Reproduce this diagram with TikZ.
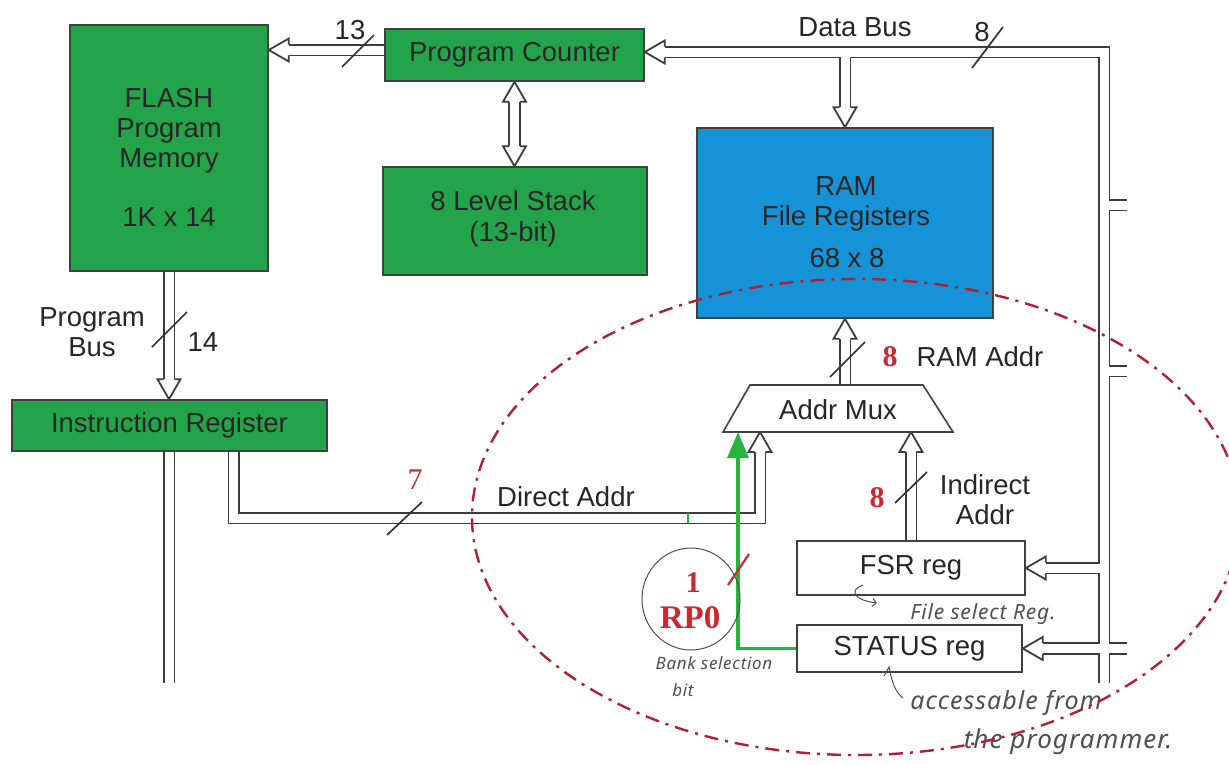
\documentclass[tikz,border=0pt]{standalone}
\usepackage{fontspec}
\setmainfont{Liberation Sans}
\newfontfamily\numfont{Liberation Serif}
\newfontfamily\handfont{Noto Sans}[LetterSpace=4]
\usetikzlibrary{calc,arrows.meta}
\pgfdeclarelayer{paper}
\pgfdeclarelayer{buslayer}
\pgfsetlayers{paper,buslayer,main}

\definecolor{boxgreen}{RGB}{36,164,74}
\definecolor{ramblue}{RGB}{22,146,214}
\definecolor{busgray}{RGB}{60,60,60}
\definecolor{markred}{RGB}{205,40,50}
\definecolor{ovalred}{RGB}{178,30,50}
\definecolor{wiregreen}{RGB}{40,180,60}
\definecolor{pencil}{RGB}{80,80,80}

\tikzset{
  lbl/.style={font=\fontsize{27.5}{30}\selectfont, text=black!85, inner sep=0pt},
  blk/.style={draw=black!75, line width=1.6pt, inner sep=0pt, lbl},
  gblk/.style={blk, fill=boxgreen},
  busout/.style={draw=busgray, line width=12.6pt, line join=miter},
  busin/.style={draw=white, line width=9pt, line join=miter},
  busedge/.style={draw=busgray, line width=1.8pt, line join=miter},
  headdown/.pic={\fill[white] (-11.5,-20) -- (0,0) -- (11.5,-20) -- cycle;
    \draw[busedge] (-5.4,-20) -- (-11.5,-20) -- (0,0) -- (11.5,-20) -- (5.4,-20);},
  headup/.pic={\fill[white] (-11.5,20) -- (0,0) -- (11.5,20) -- cycle;
    \draw[busedge] (-5.4,20) -- (-11.5,20) -- (0,0) -- (11.5,20) -- (5.4,20);},
  headleft/.pic={\fill[white] (20,-11.5) -- (0,0) -- (20,11.5) -- cycle;
    \draw[busedge] (20,-5.4) -- (20,-11.5) -- (0,0) -- (20,11.5) -- (20,5.4);},
  slash/.style={draw=black!80, line width=1.7pt},
  redslash/.style={draw=markred, line width=2.2pt},
  rednum/.style={font=\numfont\bfseries\fontsize{30}{30}\selectfont, text=markred, inner sep=0pt},
  hand/.style={font=\handfont\itshape\fontsize{#1}{#1}\selectfont, text=pencil, inner sep=0pt},
  hand/.default=20,
  pencilline/.style={draw=pencil, line width=1pt},
}

\begin{document}
\begin{tikzpicture}[x=1pt,y=-1pt]
\begin{pgfonlayer}{paper}
\fill[white] (0,0) rectangle (1229,764);
\end{pgfonlayer}
\useasboundingbox (0,0) rectangle (1229,764);

% ---------- functional blocks ----------
\node[gblk, minimum width=198pt, minimum height=246pt] (flash) at (169,148) {};
\node[lbl, align=center] (flashname) at (169,131) {FLASH\\Program\\Memory};
\node[lbl] (flashsize) at (169,217) {1K x 14};

\node[gblk, minimum width=259pt, minimum height=52pt] (pc) at (514.5,55) {Program Counter};
\node[gblk, minimum width=264pt, minimum height=108pt] (stack) at (515,221) {};
\node[lbl, align=center, font=\fontsize{27.5}{31}\selectfont] (stackname) at (513,219) {8 Level Stack\\(13-bit)};

\node[blk, fill=ramblue, minimum width=296pt, minimum height=190pt] (ram) at (845,223) {};
\node[lbl, align=center] (ramname) at (846,203.5) {RAM\\File Registers};
\node[lbl] (ramsize) at (847,258) {68 x 8};

\node[gblk, minimum width=315pt, minimum height=51pt] (ir) at (169.5,425.5) {Instruction Register};

\node[blk, fill=white, minimum width=228pt, minimum height=54pt] (fsr) at (911,568) {FSR reg};
\node[blk, fill=white, minimum width=225pt, minimum height=47pt] (status) at (909.5,648.5) {STATUS reg};

% address multiplexer
\draw[draw=black!75, line width=1.6pt, fill=white] (723,432) -- (750,385) -- (923,385) -- (953,432) -- cycle;
\node[lbl] (mux) at (838,410) {Addr Mux};
\coordinate (muxA) at (760,432);
\coordinate (muxB) at (738,432);
\coordinate (muxC) at (911,432);
\coordinate (muxO) at (845,385);

% ---------- bus routing points ----------
\coordinate (pcw) at ($(pc.west)+(0,-5)$);
\coordinate (flashin) at (flash.east |- pcw);
\coordinate (pce) at ($(pc.east)+(0,-3)$);
\coordinate (dbcorner) at (1104,52);
\coordinate (dbend) at (1104,683);
\coordinate (stubX) at (1127,0);
\coordinate (stubA) at (0,205);
\coordinate (stubB) at (0,371);
\coordinate (irout) at ($(ir.south east)+(-94,0)$);
\coordinate (daY) at (0,518);

% ---------- double-line buses ----------
\begin{pgfonlayer}{buslayer}
\foreach \s in {busout,busin}{
  \draw[\s, shorten >=20pt] (pcw) -- (flashin);
  \draw[\s, shorten >=20pt] (dbend) -- (dbcorner) -- (pce);
  \draw[\s, shorten >=20pt] (ram.north |- pce) -- (ram.north);
  \draw[\s, shorten <=20pt, shorten >=20pt] (pc.south) -- (pc.south |- stack.north);
  \draw[\s, shorten >=20pt] (flash.south) -- (flash.south |- ir.north);
  \draw[\s] (flash.south |- ir.south) -- (flash.south |- dbend);
  \draw[\s, shorten >=20pt] (irout) -- (irout |- daY) -- (muxA |- daY) -- (muxA);
  \draw[\s, shorten >=20pt] (muxO) -- (ram.south);
  \draw[\s, shorten >=20pt] (fsr.north) -- (muxC);
  \draw[\s, shorten >=20pt] (dbend |- fsr.east) -- (fsr.east);
  \draw[\s, shorten >=20pt] (stubX |- status.east) -- (status.east);
  \draw[\s] (dbend |- stubA) -- (stubX |- stubA);
  \draw[\s] (dbend |- stubB) -- (stubX |- stubB);
}
\pic at (flashin) {headleft};
\pic at (pce) {headleft};
\pic at (ram.north) {headdown};
\pic at (pc.south) {headup};
\pic at (pc.south |- stack.north) {headdown};
\pic at (flash.south |- ir.north) {headdown};
\pic at (muxA) {headup};
\pic at (ram.south) {headup};
\pic at (muxC) {headup};
\pic at (fsr.east) {headleft};
\pic at (status.east) {headleft};
\end{pgfonlayer}

% ---------- bus widths and labels ----------
\draw[slash] (342,67) -- (374,35);
\node[lbl] (w13) at (350,30) {13};
\node[lbl] (databus) at (855,27) {Data Bus};
\draw[slash] (972,68) -- (1003,27);
\node[lbl] (w8) at (982,32) {8};
\node[lbl, align=center] (progbus) at (92,332) {Program\\Bus};
\draw[slash] (152,347) -- (187,312);
\node[lbl] (w14) at (203,342) {14};
\draw[slash] (387,535) -- (422,502);
\node[rednum, font=\numfont\fontsize{30}{30}\selectfont] (w7) at (415,480) {7};
\node[lbl] (direct) at (566,497) {Direct Addr};
\draw[slash] (830,377) -- (865,342);
\node[rednum] (w8ram) at (890,357) {8};
\node[lbl] (ramaddr) at (980,357) {RAM Addr};
\draw[slash] (895,503) -- (927,472);
\node[rednum] (w8ind) at (877,498) {8};
\node[lbl, align=center] (indirect) at (985,500) {Indirect\\Addr};

% ---------- bank select bit ----------
\draw[wiregreen, line width=3.5pt, -{Triangle[length=26pt,width=21pt]}]
  (status.west) -- (status.west -| muxB) -- (muxB);
\draw[wiregreen, line width=1.5pt] (688,513) -- (688,523);
\draw[redslash] (728,585) -- (749,554);
\node[rednum] (w1) at (693,583) {1};
\node[rednum, font=\numfont\bfseries\fontsize{33}{33}\selectfont] (rp0) at (690,618) {RP0};
\draw[pencilline] (691,599) ellipse [x radius=49pt, y radius=51pt];

% ---------- notes ----------
\node[hand=17] (bank) at (714,663) {Bank selection};
\node[hand=17] (bit) at (683,690) {bit};
\node[hand=21] (fsrnote) at (983,614) {File select Reg.};
\draw[pencilline, -{Straight Barb[length=4pt]}] (863,585) .. controls (849,590) and (853,600) .. (877,603);
\node[hand=25] (acc1) at (1006,703) {accessable from};
\node[hand=26] (acc2) at (1068,742) {the programmer.};
\draw[pencilline] (884,676) -- (889,667) .. controls (892,682) and (895,692) .. (903,698);

% ---------- register access region ----------
\draw[ovalred, line width=2.4pt, dash pattern=on 14pt off 7pt on 3pt off 7pt]
  (856,517) ellipse [x radius=384pt, y radius=238pt];
\end{tikzpicture}
\end{document}
